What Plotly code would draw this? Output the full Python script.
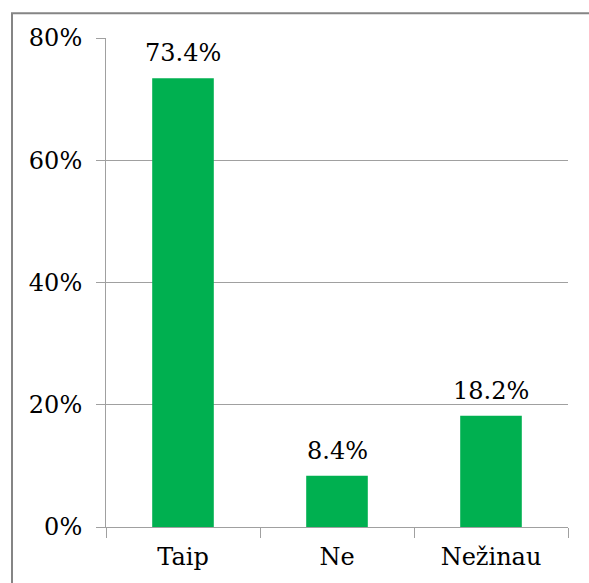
import plotly.graph_objects as go

# Survey answers and their shares (percent)
categories = ["Taip", "Ne", "Nežinau"]
shares = [73.4, 8.4, 18.2]
y_ticks = [0, 20, 40, 60, 80]
y_tick_labels = ["0%", "20%", "40%", "60%", "80%"]

FONT = "DejaVu Serif"
FS = 24
GRID = "#a0a0a0"
W, H = 589, 583
ML, MR, MT, MB = 106, 21, 38, 52

fig = go.Figure(
    go.Bar(
        x=categories,
        y=shares,
        marker=dict(color="#00B050", line=dict(width=0)),
        hoverinfo="skip",
    )
)

# value labels above each bar
for cat, val in zip(categories, shares):
    fig.add_annotation(
        x=cat, y=val, text=f"{val:.1f}%", showarrow=False,
        yanchor="bottom", yshift=9,
        font=dict(family=FONT, size=FS, color="#000000"),
    )

# outer frame around the chart (runs off the right and bottom edges)
pw, ph = W - ML - MR, H - MT - MB
fig.add_shape(
    type="rect", xref="paper", yref="paper",
    x0=(12 - ML) / pw, x1=(W + 20 - ML) / pw,
    y0=(H - MB - (H + 20)) / ph, y1=(H - MB - 13) / ph,
    line=dict(color="#858585", width=2), fillcolor="rgba(0,0,0,0)",
    layer="below",
)

fig.update_layout(
    width=W, height=H,
    margin=dict(l=ML, r=MR, t=MT, b=MB, pad=0),
    paper_bgcolor="white", plot_bgcolor="white",
    bargap=0.6,
    showlegend=False,
    font=dict(family=FONT, size=FS, color="#000000"),
    xaxis=dict(
        showline=True, linecolor=GRID, linewidth=1,
        ticks="outside", tickson="boundaries", ticklen=10,
        tickcolor=GRID, tickwidth=1,
        showgrid=False, ticklabelstandoff=8,
        tickfont=dict(family=FONT, size=FS, color="#000000"),
    ),
    yaxis=dict(
        range=[0, 80], tickvals=y_ticks, ticktext=y_tick_labels,
        showline=True, linecolor=GRID, linewidth=1,
        ticks="outside", ticklen=9, tickcolor=GRID, tickwidth=1,
        showgrid=True, gridcolor=GRID, gridwidth=1,
        zeroline=False, ticklabelstandoff=9,
        tickfont=dict(family=FONT, size=FS, color="#000000"),
    ),
)

fig.write_html("out.html")
